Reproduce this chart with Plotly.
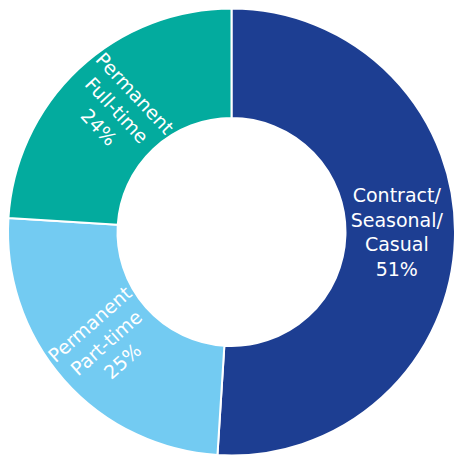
import plotly.graph_objects as go

labels = ["Contract/<br>Seasonal/<br>Casual", "Permanent<br>Part-time", "Permanent<br>Full-time"]
values = [51, 25, 24]
colors = ["#1D3E92", "#73CBF2", "#03AB9E"]

fig = go.Figure(go.Pie(
    labels=labels,
    values=values,
    sort=False,
    direction="clockwise",
    rotation=0,
    hole=0.51,
    marker=dict(colors=colors, line=dict(color="white", width=2)),
    texttemplate="%{label}<br>%{percent:.0%}",
    textposition="inside",
    insidetextorientation="radial",
    textfont=dict(family="DejaVu Sans", size=19, color="white"),
    hoverinfo="label+percent",
    domain=dict(x=[8/455, 1.0], y=[1.5/457, 448.5/457]),
    showlegend=False,
))

fig.update_layout(
    width=455, height=457,
    margin=dict(l=0, r=0, t=0, b=0),
    paper_bgcolor="white",
)

fig.write_html("out.html")
